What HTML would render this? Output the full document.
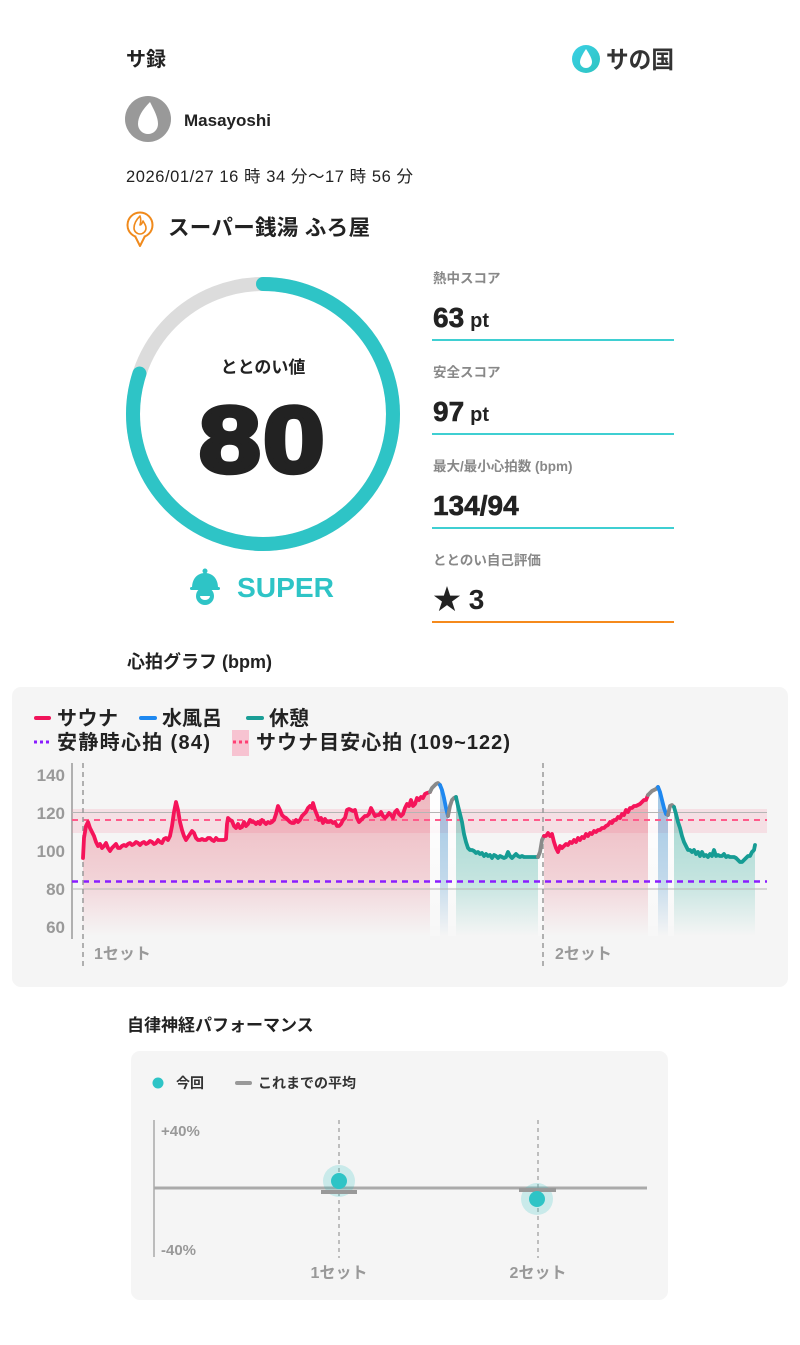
<!DOCTYPE html>
<html><head><meta charset="utf-8">
<style>
html,body{margin:0;padding:0;background:#fff;}
svg{display:block;}
text{font-family:"Liberation Sans","Noto Sans CJK JP",sans-serif;}
</style></head>
<body>
<svg width="800" height="1345" viewBox="0 0 800 1345" xmlns="http://www.w3.org/2000/svg">
<defs>
<linearGradient id="gRed" gradientUnits="userSpaceOnUse" x1="0" y1="790" x2="0" y2="936">
<stop offset="0" stop-color="#e4485e" stop-opacity="0.36"/>
<stop offset="0.6" stop-color="#e4485e" stop-opacity="0.2"/>
<stop offset="1" stop-color="#e4485e" stop-opacity="0"/>
</linearGradient>
<linearGradient id="gTeal" gradientUnits="userSpaceOnUse" x1="0" y1="800" x2="0" y2="936">
<stop offset="0" stop-color="#1aa894" stop-opacity="0.38"/>
<stop offset="0.6" stop-color="#1aa894" stop-opacity="0.22"/>
<stop offset="1" stop-color="#1aa894" stop-opacity="0"/>
</linearGradient>
<linearGradient id="gBlue" gradientUnits="userSpaceOnUse" x1="0" y1="790" x2="0" y2="936">
<stop offset="0" stop-color="#3a8fd0" stop-opacity="0.45"/>
<stop offset="0.6" stop-color="#3a8fd0" stop-opacity="0.28"/>
<stop offset="1" stop-color="#3a8fd0" stop-opacity="0"/>
</linearGradient>
<linearGradient id="gWhite" gradientUnits="userSpaceOnUse" x1="0" y1="790" x2="0" y2="936">
<stop offset="0" stop-color="#ffffff" stop-opacity="0.95"/>
<stop offset="1" stop-color="#ffffff" stop-opacity="0.2"/>
</linearGradient>
<linearGradient id="gLogo" x1="0" y1="0" x2="1" y2="1">
<stop offset="0" stop-color="#3ad0e6"/>
<stop offset="1" stop-color="#2ec4c0"/>
</linearGradient>
</defs>

<!-- Header -->
<text x="126" y="66" font-size="20" font-weight="bold" fill="#222">サ録</text>
<circle cx="586" cy="59" r="14" fill="url(#gLogo)"/>
<path d="M586 49 C582 55 580 59 580 62 A6 6 0 0 0 592 62 C592 59 590 55 586 49 Z" fill="#fff"/>
<text x="606" y="68" font-size="24" font-weight="bold" fill="#333" textLength="68" lengthAdjust="spacingAndGlyphs">サの国</text>

<circle cx="148" cy="119" r="23" fill="#999"/>
<path d="M150 102 C142 110 138 117 138 124 A10 10 0 0 0 158 124 C158 117 154 110 150 102 Z" fill="#fff"/>
<text x="184" y="126" font-size="17" font-weight="bold" fill="#222">Masayoshi</text>

<text x="126" y="182" font-size="16.5" fill="#222" textLength="287" lengthAdjust="spacing">2026/01/27 16 時 34 分〜17 時 56 分</text>

<circle cx="140" cy="225" r="12.5" fill="none" stroke="#f08a1c" stroke-width="2"/>
<path d="M135 236 L140 246 L145 236" fill="#fff" stroke="#f08a1c" stroke-width="2" stroke-linejoin="round"/>
<path d="M140 216 C136 220 134 224 134 228 A6 6 0 0 0 146 228 C146 225 144 223 143 221 C142 224 141 225 140 225 C141 222 141 219 140 216 Z" fill="none" stroke="#f08a1c" stroke-width="1.6" stroke-linejoin="round"/>
<text x="168" y="235" font-size="21.5" font-weight="bold" fill="#222" textLength="202" lengthAdjust="spacing">スーパー銭湯 ふろ屋</text>

<!-- Gauge -->
<circle cx="263" cy="414" r="130" fill="none" stroke="#dcdcdc" stroke-width="14"/>
<circle cx="263" cy="414" r="130" fill="none" stroke="#2ec4c6" stroke-width="14" stroke-linecap="round" stroke-dasharray="653.5 1000" transform="rotate(-90 263 414)"/>
<text x="263" y="373" font-size="17" font-weight="bold" fill="#222" text-anchor="middle">ととのい値</text>
<g transform="translate(263,472) scale(1.18,1)">
<text x="0" y="0" font-size="94" font-weight="bold" fill="#222" text-anchor="middle" letter-spacing="2" stroke="#222" stroke-width="4.5" stroke-linejoin="round">80</text>
</g>

<!-- SUPER icon -->
<g fill="#2ec4c6">
<circle cx="205" cy="571" r="2.5"/>
<path d="M192 588 C192 578 198 573 205 573 C212 573 218 578 218 588 Z"/>
<rect x="190" y="587" width="30" height="3" rx="1.5"/>
<circle cx="205" cy="596" r="9"/>
</g>
<path d="M200 596 A5 4 0 0 0 210 596 Z" fill="#fff"/>
<text x="237" y="597" font-size="28" font-weight="bold" fill="#2ec4c6" textLength="97" lengthAdjust="spacingAndGlyphs">SUPER</text>

<!-- Scores -->
<g font-weight="bold">
<text x="433" y="283" font-size="13.5" fill="#888">熱中スコア</text>
<text x="433" y="327" font-size="28" fill="#222" stroke="#222" stroke-width="0.6">63<tspan font-size="20" dx="6" stroke-width="0">pt</tspan></text>
<text x="433" y="377" font-size="13.5" fill="#888">安全スコア</text>
<text x="433" y="421" font-size="28" fill="#222" stroke="#222" stroke-width="0.6">97<tspan font-size="20" dx="6" stroke-width="0">pt</tspan></text>
<text x="433" y="471" font-size="13.5" fill="#888">最大/最小心拍数 (bpm)</text>
<text x="433" y="515" font-size="28" fill="#222" stroke="#222" stroke-width="0.6">134/94</text>
<text x="433" y="565" font-size="13.5" fill="#888">ととのい自己評価</text>
<text x="433" y="609" font-size="28" fill="#222">★ 3</text>
</g>
<rect x="432" y="339" width="242" height="2" fill="#3fcfd2"/>
<rect x="432" y="433" width="242" height="2" fill="#3fcfd2"/>
<rect x="432" y="527" width="242" height="2" fill="#3fcfd2"/>
<rect x="432" y="621" width="242" height="2" fill="#f58a1c"/>

<!-- Heart rate chart -->
<text x="127" y="668" font-size="18" font-weight="bold" fill="#222">心拍グラフ (bpm)</text>
<rect x="12" y="687" width="776" height="300" rx="9" fill="#f5f5f5"/>

<line x1="36" y1="718" x2="49" y2="718" stroke="#f0145a" stroke-width="4" stroke-linecap="round"/>
<text x="57" y="725" font-size="20" font-weight="bold" fill="#222" textLength="61" lengthAdjust="spacing">サウナ</text>
<line x1="141" y1="718" x2="155" y2="718" stroke="#1e88f0" stroke-width="4" stroke-linecap="round"/>
<text x="162" y="725" font-size="20" font-weight="bold" fill="#222" textLength="60" lengthAdjust="spacing">水風呂</text>
<line x1="248" y1="718" x2="262" y2="718" stroke="#1a9e96" stroke-width="4" stroke-linecap="round"/>
<text x="269" y="725" font-size="20" font-weight="bold" fill="#222" textLength="40" lengthAdjust="spacing">休憩</text>
<line x1="34" y1="742" x2="51" y2="742" stroke="#8a1cff" stroke-width="3" stroke-dasharray="3 3"/>
<text x="57" y="749" font-size="20" font-weight="bold" fill="#222" textLength="153" lengthAdjust="spacing">安静時心拍 (84)</text>
<rect x="232" y="730" width="17" height="26" fill="#f7c3d1"/>
<line x1="233" y1="742" x2="249" y2="742" stroke="#ff3f74" stroke-width="3" stroke-dasharray="3 3"/>
<text x="256" y="749" font-size="20" font-weight="bold" fill="#222" textLength="254" lengthAdjust="spacing">サウナ目安心拍 (109~122)</text>

<g font-size="17" font-weight="bold" fill="#999" text-anchor="end">
<text x="65" y="781">140</text>
<text x="65" y="819">120</text>
<text x="65" y="857">100</text>
<text x="65" y="895">80</text>
<text x="65" y="933">60</text>
</g>
<line x1="72" y1="763" x2="72" y2="939" stroke="#999" stroke-width="1.5"/>

<!-- band -->
<rect x="72" y="809" width="695" height="24" fill="#f4859f" fill-opacity="0.2"/>

<!-- fills -->
<polygon fill="url(#gRed)" points="83,858 84,838 86,826 88,822 90,828 92,832 94,836 96,842 98,846 100,844 102,848 104,846 106,843 108,848 110,851 112,848 114,846 116,844 118,848 120,848 122,846 124,845 126,846 128,844 130,843 132,845 134,844 136,842 138,843 140,845 142,843 144,842 146,844 148,843 150,841 152,842 154,844 156,843 158,840 160,842 162,843 164,839 166,838 168,840 170,836 172,826 174,812 176,802 178,810 180,822 182,830 184,836 186,840 188,837 190,834 192,831 194,833 196,838 198,840 200,840 202,839 204,840 206,840 208,838 210,838 212,840 214,841 216,838 218,840 220,840 222,840 224,840 226,839 227,824 228,818 230,820 232,821 234,826 236,828 238,824 240,828 242,827 244,822 246,826 248,824 250,820 252,822 254,822 256,824 258,822 260,824 262,820 264,822 266,824 268,822 270,823 272,822 274,820 276,814 278,806 280,810 282,815 284,817 286,818 288,820 290,822 292,823 294,823 296,820 298,822 300,820 302,816 304,814 306,812 308,808 310,806 312,808 313,803 315,810 317,815 319,820 321,818 323,823 325,819 327,822 329,822 331,821 333,823 335,822 337,826 339,826 341,824 343,820 345,818 347,810 349,809 351,810 353,811 355,810 357,818 359,822 361,820 363,818 365,816 367,816 369,814 371,808 373,812 375,816 377,815 379,815 381,812 383,816 385,818 387,816 389,813 391,815 393,818 395,812 397,810 399,814 401,816 403,814 405,808 407,804 409,806 411,800 413,806 415,804 417,798 419,800 421,797 423,798 425,794 427,793 430,792 430,936 83,936"/>
<polygon fill="url(#gWhite)" points="430,792 432,788 434,786 436,784 438,783 440,785 440,936 430,936"/>
<polygon fill="url(#gBlue)" points="440,785 442,790 444,798 446,808 448,816 448,936 440,936"/>
<polygon fill="url(#gWhite)" points="448,816 450,806 452,800 454,798 456,797 456,936 448,936"/>
<polygon fill="url(#gTeal)" points="456,797 458,806 460,814 462,822 464,834 466,842 468,848 470,850 472,850 474,851 476,853 478,852 480,854 482,853 484,856 486,854 488,856 490,855 492,858 494,855 496,856 498,858 500,856 502,857 504,858 506,857 508,852 510,856 512,858 514,856 516,854 518,856 520,857 522,856 524,857 526,857 528,857 530,857 532,857 534,857 536,857 538,857 538,936 456,936"/>
<polygon fill="url(#gWhite)" points="538,857 540,852 542,840 544,836 544,936 538,936"/>
<polygon fill="url(#gRed)" points="544,836 546,836 548,833 550,836 552,834 554,842 556,848 558,852 560,846 562,848 564,846 566,844 568,845 570,842 572,843 574,840 576,842 578,838 580,840 582,837 584,838 586,834 588,836 590,833 592,834 594,831 596,832 598,830 600,830 602,828 604,828 606,826 608,825 610,822 612,823 614,820 616,820 618,817 620,818 622,814 624,815 626,810 628,812 630,808 632,808 634,806 636,806 638,805 640,804 642,802 644,800 646,800 648,795 648,936 544,936"/>
<polygon fill="url(#gWhite)" points="648,795 650,793 652,791 654,790 656,789 658,787 658,936 648,936"/>
<polygon fill="url(#gBlue)" points="658,787 660,792 662,800 664,808 666,814 668,815 668,936 658,936"/>
<polygon fill="url(#gWhite)" points="668,815 670,806 672,805 674,807 674,936 668,936"/>
<polygon fill="url(#gTeal)" points="674,807 676,814 678,822 680,828 682,836 684,842 686,846 688,850 690,850 692,852 694,850 696,854 698,852 700,856 702,852 704,856 706,855 708,857 710,854 712,856 714,850 716,856 718,855 720,856 722,856 724,854 726,857 728,856 730,857 732,857 734,857 736,858 738,860 740,862 742,862 744,860 746,858 748,856 750,856 752,852 754,850 755,845 755,936 674,936"/>

<!-- grid & reference lines -->
<line x1="72" y1="812.5" x2="767" y2="812.5" stroke="#b5b5b5" stroke-width="1"/>
<line x1="72" y1="889" x2="767" y2="889" stroke="#b5b5b5" stroke-width="1"/>
<line x1="72" y1="820" x2="767" y2="820" stroke="#ff5a8a" stroke-width="2" stroke-dasharray="6 5"/>
<line x1="72" y1="881.5" x2="767" y2="881.5" stroke="#8a1cff" stroke-width="2.5" stroke-dasharray="6 5"/>
<line x1="83" y1="763" x2="83" y2="970" stroke="#999" stroke-width="1.5" stroke-dasharray="5 4"/>
<line x1="543" y1="763" x2="543" y2="970" stroke="#999" stroke-width="1.5" stroke-dasharray="5 4"/>

<!-- series -->
<g fill="none" stroke-width="3.8" stroke-linejoin="round" stroke-linecap="round">
<polyline stroke="#f5145a" points="83,858 84,838 86,826 88,822 90,828 92,832 94,836 96,842 98,846 100,844 102,848 104,846 106,843 108,848 110,851 112,848 114,846 116,844 118,848 120,848 122,846 124,845 126,846 128,844 130,843 132,845 134,844 136,842 138,843 140,845 142,843 144,842 146,844 148,843 150,841 152,842 154,844 156,843 158,840 160,842 162,843 164,839 166,838 168,840 170,836 172,826 174,812 176,802 178,810 180,822 182,830 184,836 186,840 188,837 190,834 192,831 194,833 196,838 198,840 200,840 202,839 204,840 206,840 208,838 210,838 212,840 214,841 216,838 218,840 220,840 222,840 224,840 226,839 227,824 228,818 230,820 232,821 234,826 236,828 238,824 240,828 242,827 244,822 246,826 248,824 250,820 252,822 254,822 256,824 258,822 260,824 262,820 264,822 266,824 268,822 270,823 272,822 274,820 276,814 278,806 280,810 282,815 284,817 286,818 288,820 290,822 292,823 294,823 296,820 298,822 300,820 302,816 304,814 306,812 308,808 310,806 312,808 313,803 315,810 317,815 319,820 321,818 323,823 325,819 327,822 329,822 331,821 333,823 335,822 337,826 339,826 341,824 343,820 345,818 347,810 349,809 351,810 353,811 355,810 357,818 359,822 361,820 363,818 365,816 367,816 369,814 371,808 373,812 375,816 377,815 379,815 381,812 383,816 385,818 387,816 389,813 391,815 393,818 395,812 397,810 399,814 401,816 403,814 405,808 407,804 409,806 411,800 413,806 415,804 417,798 419,800 421,797 423,798 425,794 427,793 430,792"/>
<polyline stroke="#8a8a8a" points="430,792 432,788 434,786 436,784 438,783 440,785"/>
<polyline stroke="#1e88f0" points="440,785 442,790 444,798 446,808 448,816"/>
<polyline stroke="#8a8a8a" points="448,816 450,806 452,800 454,798 456,797"/>
<polyline stroke="#169c94" points="456,797 458,806 460,814 462,822 464,834 466,842 468,848 470,850 472,850 474,851 476,853 478,852 480,854 482,853 484,856 486,854 488,856 490,855 492,858 494,855 496,856 498,858 500,856 502,857 504,858 506,857 508,852 510,856 512,858 514,856 516,854 518,856 520,857 522,856 524,857 526,857 528,857 530,857 532,857 534,857 536,857 538,857"/>
<polyline stroke="#8a8a8a" points="538,857 540,852 542,840 544,836"/>
<polyline stroke="#f5145a" points="544,836 546,836 548,833 550,836 552,834 554,842 556,848 558,852 560,846 562,848 564,846 566,844 568,845 570,842 572,843 574,840 576,842 578,838 580,840 582,837 584,838 586,834 588,836 590,833 592,834 594,831 596,832 598,830 600,830 602,828 604,828 606,826 608,825 610,822 612,823 614,820 616,820 618,817 620,818 622,814 624,815 626,810 628,812 630,808 632,808 634,806 636,806 638,805 640,804 642,802 644,800 646,800 648,795"/>
<polyline stroke="#8a8a8a" points="648,795 650,793 652,791 654,790 656,789 658,787"/>
<polyline stroke="#1e88f0" points="658,787 660,792 662,800 664,808 666,814 668,815"/>
<polyline stroke="#8a8a8a" points="668,815 670,806 672,805 674,807"/>
<polyline stroke="#169c94" points="674,807 676,814 678,822 680,828 682,836 684,842 686,846 688,850 690,850 692,852 694,850 696,854 698,852 700,856 702,852 704,856 706,855 708,857 710,854 712,856 714,850 716,856 718,855 720,856 722,856 724,854 726,857 728,856 730,857 732,857 734,857 736,858 738,860 740,862 742,862 744,860 746,858 748,856 750,856 752,852 754,850 755,845"/>
</g>

<text x="94" y="959" font-size="16" font-weight="bold" fill="#999">1セット</text>
<text x="555" y="959" font-size="16" font-weight="bold" fill="#999">2セット</text>

<!-- Autonomic performance -->
<text x="127" y="1031" font-size="17" font-weight="bold" fill="#222">自律神経パフォーマンス</text>
<rect x="131" y="1051" width="537" height="249" rx="9" fill="#f5f5f5"/>
<circle cx="158" cy="1083" r="5.5" fill="#2ec4c6"/>
<text x="176" y="1088" font-size="14" font-weight="bold" fill="#333">今回</text>
<line x1="237" y1="1083" x2="250" y2="1083" stroke="#999" stroke-width="4" stroke-linecap="round"/>
<text x="258" y="1088" font-size="14" font-weight="bold" fill="#333">これまでの平均</text>

<line x1="154" y1="1120" x2="154" y2="1257" stroke="#aaa" stroke-width="1.5"/>
<line x1="154" y1="1188" x2="647" y2="1188" stroke="#aaa" stroke-width="3"/>
<line x1="339" y1="1120" x2="339" y2="1258" stroke="#999" stroke-width="1.2" stroke-dasharray="4 4"/>
<line x1="538" y1="1120" x2="538" y2="1258" stroke="#999" stroke-width="1.2" stroke-dasharray="4 4"/>
<text x="161" y="1136" font-size="15" font-weight="bold" fill="#999">+40%</text>
<text x="161" y="1255" font-size="15" font-weight="bold" fill="#999">-40%</text>

<circle cx="339" cy="1181" r="16" fill="#2ec4c6" fill-opacity="0.22"/>
<circle cx="537" cy="1199" r="16" fill="#2ec4c6" fill-opacity="0.22"/>
<line x1="321" y1="1192" x2="357" y2="1192" stroke="#999" stroke-width="4"/>
<line x1="519" y1="1190" x2="556" y2="1190" stroke="#999" stroke-width="4"/>
<circle cx="339" cy="1181" r="8" fill="#2ec4c6"/>
<circle cx="537" cy="1199" r="8" fill="#2ec4c6"/>

<text x="339" y="1278" font-size="16" font-weight="bold" fill="#999" text-anchor="middle">1セット</text>
<text x="538" y="1278" font-size="16" font-weight="bold" fill="#999" text-anchor="middle">2セット</text>
</svg>
</body></html>
